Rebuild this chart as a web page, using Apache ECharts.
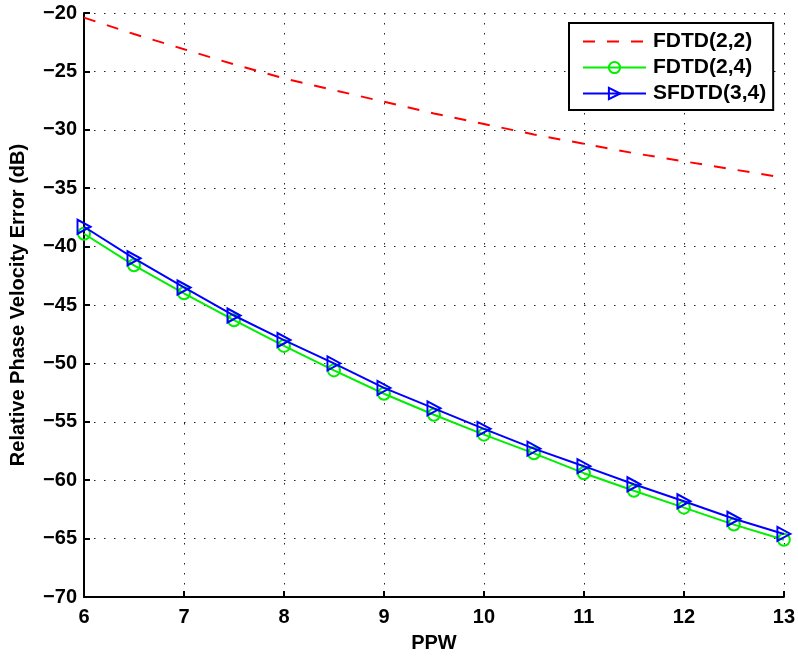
<!DOCTYPE html>
<html>
<head>
<meta charset="utf-8">
<script src="https://cdn.jsdelivr.net/npm/echarts@6/dist/echarts.min.js"></script>
<style>
  html, body { margin: 0; padding: 0; background: #fff; }
  #chart { width: 798px; height: 658px; }
</style>
</head>
<body>
<div id="chart"></div>
<script>
// Points per wavelength
const ppw = [6, 6.5, 7, 7.5, 8, 8.5, 9, 9.5, 10, 10.5, 11, 11.5, 12, 12.5, 13];

// Relative phase velocity error (dB) for each scheme
const fdtd22 = [-20.4, -21.8, -23.1, -24.4, -25.6, -26.6, -27.6, -28.6, -29.5, -30.4, -31.2, -32.0, -32.7, -33.4, -34.1];
const fdtd24 = [-38.9, -41.6, -44.0, -46.3, -48.5, -50.6, -52.6, -54.4, -56.1, -57.7, -59.4, -60.9, -62.35, -63.8, -65.1];
const sfdtd34 = [-38.3, -41.0, -43.5, -45.9, -48.0, -50.0, -52.1, -53.85, -55.6, -57.3, -58.8, -60.35, -61.8, -63.3, -64.6];

const seriesNames = ['FDTD(2,2)', 'FDTD(2,4)', 'SFDTD(3,4)'];

const FONT = '"Liberation Sans", Arial, sans-serif';
const pairs = (ys) => ppw.map((x, i) => [x, ys[i]]);
const minus = (v) => String(v).replace('-', '\u2212');

const dotted = { color: '#222', width: 1, type: [1.5, 8.5] };

const chart = echarts.init(document.getElementById('chart'), null, { renderer: 'canvas' });
chart.setOption({
  animation: false,
  backgroundColor: '#fff',
  grid: { left: 84, right: 14, top: 13, bottom: 61, containLabel: false },
  xAxis: {
    type: 'value', min: 6, max: 13, interval: 1,
    name: 'PPW', nameLocation: 'middle', nameGap: 36,
    nameTextStyle: { fontFamily: FONT, fontWeight: 'bold', fontSize: 20, color: '#000' },
    axisLine: { onZero: false, lineStyle: { color: '#000', width: 2 } },
    axisTick: { inside: true, length: 6, lineStyle: { color: '#000', width: 2 } },
    axisLabel: { margin: 10, fontFamily: FONT, fontWeight: 'bold', fontSize: 20, color: '#000' },
    splitLine: { show: true, lineStyle: dotted }
  },
  yAxis: {
    type: 'value', min: -70, max: -20, interval: 5,
    name: 'Relative Phase Velocity Error (dB)', nameLocation: 'middle', nameGap: 56,
    nameTextStyle: { fontFamily: FONT, fontWeight: 'bold', fontSize: 20, color: '#000' },
    axisLine: { onZero: false, lineStyle: { color: '#000', width: 2 } },
    axisTick: { inside: true, length: 6, lineStyle: { color: '#000', width: 2 } },
    axisLabel: { margin: 7, fontFamily: FONT, fontWeight: 'bold', fontSize: 20, color: '#000', formatter: minus },
    splitLine: { show: true, lineStyle: dotted }
  },
  legend: {
    orient: 'vertical', left: 569, top: 23,
    data: [
      // dashed line only, no marker in the key
      { name: seriesNames[0], itemStyle: { color: 'rgba(0,0,0,0)', borderWidth: 0, opacity: 0 } },
      { name: seriesNames[1] },
      { name: seriesNames[2] }
    ],
    backgroundColor: '#fff', borderColor: '#000', borderWidth: 2, borderRadius: 0,
    padding: [8, 7, 6, 13],
    itemWidth: 63, itemHeight: 14, itemGap: 5,
    textStyle: { fontFamily: FONT, fontWeight: 'bold', fontSize: 21, color: '#000', padding: [0, 0, 0, 2] }
  },
  series: [
    {
      name: seriesNames[0], type: 'line', data: pairs(fdtd22),
      symbol: 'none', z: 3,
      lineStyle: { color: '#ff0000', width: 2, type: [12, 12] },
      itemStyle: { color: '#ff0000' }
    },
    {
      name: seriesNames[1], type: 'line', data: pairs(fdtd24),
      symbol: 'circle', symbolSize: 12, showAllSymbol: true, z: 4,
      lineStyle: { color: '#00ee00', width: 2 },
      itemStyle: { color: 'rgba(0,0,0,0)', borderColor: '#00ee00', borderWidth: 2 }
    },
    {
      name: seriesNames[2], type: 'line', data: pairs(sfdtd34),
      symbol: 'triangle', symbolSize: [14, 13], symbolRotate: -90, showAllSymbol: true, z: 5,
      lineStyle: { color: '#0000ff', width: 2 },
      itemStyle: { color: 'rgba(0,0,0,0)', borderColor: '#0000ff', borderWidth: 2 }
    }
  ]
});
</script>
</body>
</html>
